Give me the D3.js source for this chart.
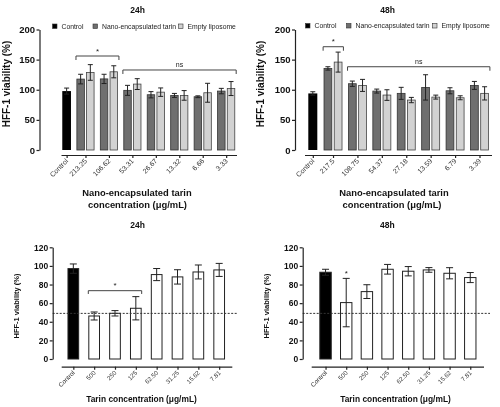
<!DOCTYPE html>
<html><head><meta charset="utf-8">
<script src="https://cdn.jsdelivr.net/npm/d3@7"></script>
<style>
html,body{margin:0;padding:0;background:#fff;}
svg{display:block;font-family:"Liberation Sans",Arial,Helvetica,sans-serif;will-change:transform;}
</style></head>
<body>
<svg id="chart" width="500" height="407"></svg>
<script>
// ---------- DATA ----------
const top24Categories = ["Control","213.25","106.62","53.31","26.67","13.32","6.66","3.33"];
const top24Control = 97.8, top24ControlErr = 5;
const top24Nano = [117.7,118,99,91.7,90.6,88.4,97.8];
const top24NanoErr = [8,7.7,8.3,5.2,3.3,1.5,4.5];
const top24Empty = [128.7,129.8,109.4,96,90.6,95,102];
const top24EmptyErr = [13,10,9,7,8,15.7,11.6];

const top48Categories = ["Control","217.5","108.75","54.37","27.18","13.59","6.79","3.39"];
const top48Control = 93.9, top48ControlErr = 2.8;
const top48Nano = [135.4,110,97.8,94,103.9,98.3,107.2];
const top48NanoErr = [2.8,4.4,3.3,10,21,5,6.6];
const top48Empty = [145.9,107.2,91.2,82.9,87.8,86.7,94];
const top48EmptyErr = [16.6,10,8.8,4.4,3.3,3.3,11];

const bottomCategories = ["Control","500","250","125","62.50","31.25","15.62","7.81"];
const bottom24Values = [97.1,46.2,49.1,54.5,90.7,88.2,93.5,95.7];
const bottom24Err = [5,4.3,2.9,12.5,6.5,7.7,7.5,7];
const bottom48Values = [93.2,60.6,72.4,96.4,94.3,95.7,92.1,87.5];
const bottom48Err = [3.2,26,7.4,5.2,5,2.5,6,5.4];
const ic50Line = 49;

const topYTicks = [0,50,100,150,200];
const bottomYTicks = [0,20,40,60,80,100,120];
const legendLabels = ["Control","Nano-encapsulated tarin","Empty liposome"];
const yLabel = "HFF-1 viability (%)";
const topXTitle = ["Nano-encapsulated tarin","concentration (\u03bcg/mL)"];
const bottomXTitle = "Tarin concentration (\u03bcg/mL)";

// ---------- STYLE ----------
const C = {ink:"#222", control:"#000", nano:"#6f6f6f", empty:"#d2d2d2", white:"#fff"};
const svg = d3.select("#chart");
const FONT = "Liberation Sans, Arial, sans-serif";
const layerBars = svg.append("g").attr("class","bars");
const layerAxes = svg.append("g").attr("class","axes");
const layerText = svg.append("g").attr("class","texts");

function yAxis(y, ticks, fs, axisX){
  const ax = layerAxes.append("g").attr("class","yax").attr("transform","translate(" + axisX + ",0)");
  ax.call(d3.axisLeft(y).tickValues(ticks).tickSize(3).tickSizeOuter(0).tickPadding(1.5));
  ax.attr("font-family",FONT).attr("font-size",fs).attr("font-weight","bold");
  ax.select(".domain").attr("stroke",C.ink).attr("stroke-width",1.2);
  ax.selectAll(".tick line").attr("stroke",C.ink).attr("stroke-width",1.2);
  ax.selectAll(".tick text").attr("fill","#111");
  return ax;
}

function xAxis(cats, pos, cfg){
  const sc = d3.scaleOrdinal(cats, pos);
  const ax = layerAxes.append("g").attr("class","xax").attr("transform","translate(0," + cfg.xAxisY + ")");
  ax.call(d3.axisBottom(sc).tickSize(3).tickFormat(() => ""));
  ax.select(".domain").attr("d","M" + cfg.axFrom + ",0.5H" + cfg.axTo).attr("stroke",C.ink).attr("stroke-width",1.2);
  ax.selectAll(".tick line").attr("stroke",C.ink).attr("stroke-width",1.2);
  ax.selectAll(".tick text").remove();
  layerText.append("g").selectAll("text").data(cats).join("text")
    .attr("transform",(d,i)=>"translate(" + (pos[i]+2) + "," + (cfg.xAxisY+6.5) + ") rotate(-45)")
    .attr("text-anchor","end").attr("font-size",cfg.tickFs).attr("fill","#333")
    .text(d=>d);
}

function errBar(cx, y, v, e, cap){
  const p = d3.path();
  p.moveTo(cx, y(v-e)); p.lineTo(cx, y(v+e));
  p.moveTo(cx-cap/2, y(v+e)); p.lineTo(cx+cap/2, y(v+e));
  p.moveTo(cx-cap/2, y(v-e)); p.lineTo(cx+cap/2, y(v-e));
  layerBars.append("path").attr("d",p.toString()).attr("stroke",C.ink).attr("stroke-width",1).attr("fill","none");
}

function bracket(xa, xb, yy, drop, label, fs){
  layerAxes.append("path").attr("d","M" + xa + "," + (yy+drop) + "V" + yy + "H" + xb + "V" + (yy+drop))
    .attr("fill","none").attr("stroke","#444").attr("stroke-width",1);
  layerText.append("text").attr("x",(xa+xb)/2).attr("y",yy-2.5).attr("text-anchor","middle")
    .attr("font-size",fs).attr("fill","#222").text(label);
}

function titleText(x,y,t,fs){
  layerText.append("text").attr("x",x).attr("y",y).attr("text-anchor","middle")
    .attr("font-weight","bold").attr("font-size",fs).attr("fill","#111").text(t);
}
function yTitle(x,y,fs){
  layerText.append("text").attr("transform","translate(" + x + "," + y + ") rotate(-90)")
    .attr("text-anchor","middle").attr("font-weight","bold").attr("font-size",fs).attr("fill","#111").text(yLabel);
}

// ---------- TOP (grouped) ----------
function topPanel(cfg, cats, ctrl, ctrlErr, nano, nanoErr, empty, emptyErr){
  const y = d3.scaleLinear().domain([0,200]).range([cfg.y0,cfg.y1]);
  const x = d3.scaleBand().domain(cats).range([cfg.x0,cfg.x1]).padding(0);
  const pos = cats.map((c,i)=> x(c)+x.bandwidth()/2 + (i===0?cfg.ctrlShift:0));
  layerBars.append("rect").attr("x",pos[0]-cfg.ctrlW/2).attr("width",cfg.ctrlW)
    .attr("y",y(ctrl)).attr("height",y(0)-y(ctrl)).attr("fill",C.control);
  errBar(pos[0],y,ctrl,ctrlErr,cfg.cap);
  cats.slice(1).forEach((c,i)=>{
    const cx = pos[i+1];
    const nx = cx - cfg.gap/2 - cfg.barW/2, ex = cx + cfg.gap/2 + cfg.barW/2;
    layerBars.append("rect").attr("x",nx-cfg.barW/2+0.4).attr("width",cfg.barW-0.8)
      .attr("y",y(nano[i])).attr("height",y(0)-y(nano[i])).attr("fill",C.nano).attr("stroke","#333").attr("stroke-width",0.8);
    layerBars.append("rect").attr("x",ex-cfg.barW/2+0.4).attr("width",cfg.barW-0.8)
      .attr("y",y(empty[i])).attr("height",y(0)-y(empty[i])).attr("fill",C.empty).attr("stroke","#444").attr("stroke-width",0.8);
    errBar(nx,y,nano[i],nanoErr[i],cfg.cap);
    errBar(ex,y,empty[i],emptyErr[i],cfg.cap);
  });
  yAxis(y,topYTicks,9.5,cfg.axisX);
  xAxis(cats,pos,cfg);
  cfg.brackets.forEach(b=>{
    const xa = pos[b.from] - cfg.gap/2 - cfg.barW - 0.5;
    const xb = pos[b.to] + cfg.gap/2 + cfg.barW + 1;
    bracket(xa,xb,y(b.level),4,b.label,b.label==="*"?8:7);
  });
  const fills=[C.control,C.nano,C.empty];
  legendLabels.forEach((t,i)=>{
    const lx = cfg.legend[i];
    layerBars.append("rect").attr("x",lx).attr("y",cfg.legendY-2.5).attr("width",4.5).attr("height",4.5)
      .attr("fill",fills[i]).attr("stroke","#333").attr("stroke-width",0.6);
    layerText.append("text").attr("x",lx+9).attr("y",cfg.legendY+2.3).attr("font-size",6.8).attr("fill","#222").text(t);
  });
}

// ---------- BOTTOM ----------
function bottomPanel(cfg, cats, vals, errs, stars){
  const y = d3.scaleLinear().domain([0,120]).range([cfg.y0,cfg.y1]);
  const x = d3.scaleBand().domain(cats).range([cfg.x0,cfg.x1]).padding(0);
  const pos = cats.map(c=>x(c)+x.bandwidth()/2);
  cats.forEach((c,i)=>{
    layerBars.append("rect").attr("x",pos[i]-cfg.barW/2+0.5).attr("width",cfg.barW-1)
      .attr("y",y(vals[i])).attr("height",y(0)-y(vals[i]))
      .attr("fill",i===0?C.control:C.white).attr("stroke","#222").attr("stroke-width",1);
  });
  cats.forEach((c,i)=>errBar(pos[i],y,vals[i],errs[i],cfg.cap));
  layerAxes.append("line").attr("x1",cfg.axisX).attr("x2",cfg.dashTo).attr("y1",y(ic50Line)).attr("y2",y(ic50Line))
    .attr("stroke","#333").attr("stroke-width",1).attr("stroke-dasharray","2,1.5");
  yAxis(y,bottomYTicks,8.5,cfg.axisX);
  xAxis(cats,pos,cfg);
  stars.forEach(s=>{
    if(s.to!==undefined){
      bracket(pos[s.from]-cfg.barW/2,pos[s.to]+cfg.barW/2,y(s.level),3.3,s.label,8);
    } else {
      layerText.append("text").attr("x",pos[s.from]).attr("y",y(s.level)+3).attr("text-anchor","middle")
        .attr("font-size",8).attr("fill","#222").text(s.label);
    }
  });
}

topPanel({x0:50.3,x1:237.9,y0:150,y1:29.5,axisX:39.5,xAxisY:155,axFrom:61.5,axTo:237,
  ctrlShift:4.6,ctrlW:8.7,barW:8.3,gap:1.4,cap:5,tickFs:7,legendY:26.5,legend:[52.5,93,178.5],
  brackets:[{from:1,to:2,level:156,label:"*"},{from:3,to:7,level:132.8,label:"ns"}]},
  top24Categories,top24Control,top24ControlErr,top24Nano,top24NanoErr,top24Empty,top24EmptyErr);

topPanel({x0:296.4,x1:491.7,y0:150,y1:29.5,axisX:295,xAxisY:155,axFrom:305,axTo:492,
  ctrlShift:4.2,ctrlW:9,barW:8.6,gap:1.6,cap:5,tickFs:7,legendY:26,legend:[305.5,346.5,432.5],
  brackets:[{from:1,to:1,level:171.4,label:"*"},{from:2,to:7,level:138.2,label:"ns"}]},
  top48Categories,top48Control,top48ControlErr,top48Nano,top48NanoErr,top48Empty,top48EmptyErr);

bottomPanel({x0:62.9,x1:229.6,y0:359,y1:247.3,axisX:52.7,xAxisY:366.7,axFrom:61.7,axTo:232.3,
  barW:11.7,cap:7,tickFs:6.3,dashTo:238},
  bottomCategories,bottom24Values,bottom24Err,[{from:1,to:3,level:73.4,label:"*"}]);

bottomPanel({x0:315.2,x1:480.6,y0:359,y1:247.3,axisX:302.7,xAxisY:366.7,axFrom:311.7,axTo:484,
  barW:12.4,cap:7,tickFs:6.3,dashTo:490},
  bottomCategories,bottom48Values,bottom48Err,[{from:1,level:92,label:"*"}]);

titleText(137.5,13.3,"24h",8.5);
titleText(387.5,13.3,"48h",8.5);
titleText(137.5,228.3,"24h",8.5);
titleText(387.3,228.3,"48h",8.5);
titleText(137,196,topXTitle[0],9.4);
titleText(137.5,207.8,topXTitle[1],9.4);
titleText(394,196,topXTitle[0],9.4);
titleText(392,207.8,topXTitle[1],9.4);
titleText(141.5,402,bottomXTitle,8.4);
titleText(395.5,402,bottomXTitle,8.4);
yTitle(10,84,10);
yTitle(264,84,10);
yTitle(18.5,306,7.5);
yTitle(268.5,306,7.5);
</script>
</body></html>
